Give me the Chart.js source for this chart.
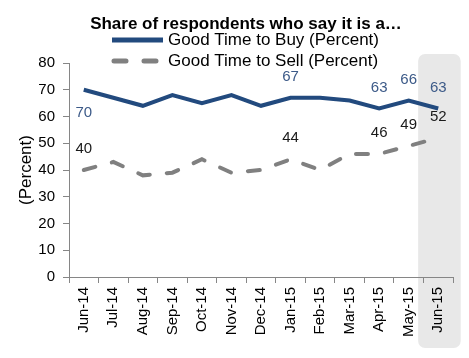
<!DOCTYPE html>
<html>
<head>
<meta charset="utf-8">
<script src="https://cdn.jsdelivr.net/npm/chart.js@4.4.0/dist/chart.umd.min.js"></script>
<style>
html,body{margin:0;padding:0;background:#fff;}
#wrap{width:469px;height:358px;}
</style>
</head>
<body>
<div id="wrap"><canvas id="c" width="469" height="358"></canvas></div>
<script>
const categories = ["Jun-14","Jul-14","Aug-14","Sep-14","Oct-14","Nov-14","Dec-14","Jan-15","Feb-15","Mar-15","Apr-15","May-15","Jun-15"];
const goodTimeToBuy = [70,67,64,68,65,68,64,67,67,66,63,66,63];
const goodTimeToSell = [40,43,38,39,44,39,40,44,40,46,46,49,52];
const yTicks = [0,10,20,30,40,50,60,70,80];
const buyLabelIdx = [0,7,10,11,12];
const buyLabelPos = ["below","above","above","above","above"];
const sellLabelIdx = [0,7,10,11,12];
const sellLabelPos = ["above","above","above","above","above"];
const shadedIdx = 12;
const titleText = "Share of respondents who say it is a…";
const seriesNames = ["Good Time to Buy (Percent)", "Good Time to Sell (Percent)"];

const FONT = "'Liberation Sans', Arial, sans-serif";
const BUY_COLOR = '#224a7e';
const SELL_COLOR = '#808080';
const SELL_DASH = [12, 17];

const shadePlugin = {
  id: 'shade',
  beforeDraw(chart) {
    const {ctx} = chart;
    const x = chart.scales.x;
    const c = x.getPixelForValue(shadedIdx);
    const w = x.getPixelForValue(1) - x.getPixelForValue(0);
    const left = c - 0.68 * w, right = c + 0.76 * w;
    const top = 54, bottom = 348, r = 7;
    ctx.save();
    ctx.fillStyle = '#e8e8e8';
    ctx.beginPath();
    ctx.roundRect(left, top, right - left, bottom - top, r);
    ctx.fill();
    ctx.restore();
  }
};

const headerPlugin = {
  id: 'header',
  afterDraw(chart) {
    const {ctx} = chart;
    ctx.save();
    ctx.textBaseline = 'middle';
    ctx.textAlign = 'center';
    ctx.fillStyle = '#000';
    ctx.font = "bold 17px " + FONT;
    ctx.fillText(titleText, 246, 24);
    ctx.textAlign = 'left';
    ctx.font = "17px " + FONT;
    const rows = [40, 61];
    const styles = [
      {color: BUY_COLOR, dash: [], cap: 'butt', x0: 112, x1: 163},
      {color: SELL_COLOR, dash: [12, 18], cap: 'round', x0: 114, x1: 162}
    ];
    rows.forEach((yy, i) => {
      const s = styles[i];
      ctx.save();
      ctx.strokeStyle = s.color;
      ctx.lineWidth = 5;
      ctx.lineCap = s.cap;
      ctx.setLineDash(s.dash);
      ctx.beginPath();
      ctx.moveTo(s.x0, yy);
      ctx.lineTo(s.x1, yy);
      ctx.stroke();
      ctx.restore();
      ctx.fillStyle = '#000';
      ctx.fillText(seriesNames[i], 168, yy);
    });
    ctx.restore();
  }
};

const labelPlugin = {
  id: 'vlabels',
  afterDatasetsDraw(chart) {
    const {ctx} = chart;
    const x = chart.scales.x, y = chart.scales.y;
    ctx.save();
    ctx.font = "15px " + FONT;
    ctx.textAlign = 'center';
    ctx.textBaseline = 'middle';
    const draw = (data, idx, pos, color) => {
      idx.forEach((i, k) => {
        const px = x.getPixelForValue(i);
        const py = y.getPixelForValue(data[i]);
        const dy = pos[k] === 'below' ? 23 : -21;
        ctx.fillStyle = color;
        ctx.fillText(String(data[i]), px, py + dy);
      });
    };
    draw(goodTimeToBuy, buyLabelIdx, buyLabelPos, '#3c5a88');
    draw(goodTimeToSell, sellLabelIdx, sellLabelPos, '#1a1a1a');
    ctx.restore();
  }
};

new Chart(document.getElementById('c'), {
  type: 'line',
  data: {
    labels: categories,
    datasets: [
      {
        label: seriesNames[0],
        data: goodTimeToBuy,
        borderColor: BUY_COLOR,
        backgroundColor: BUY_COLOR,
        borderWidth: 4,
        pointRadius: 0,
        tension: 0,
        borderCapStyle: 'butt'
      },
      {
        label: seriesNames[1],
        data: goodTimeToSell,
        borderColor: SELL_COLOR,
        backgroundColor: SELL_COLOR,
        borderWidth: 4,
        borderDash: SELL_DASH,
        pointRadius: 0,
        tension: 0,
        borderCapStyle: 'round'
      }
    ]
  },
  options: {
    responsive: false,
    animation: false,
    devicePixelRatio: 1,
    layout: { padding: { left: 0, right: 16, top: 63, bottom: 0 } },
    plugins: {
      title: { display: false },
      legend: { display: false },
      tooltip: { enabled: false }
    },
    scales: {
      x: {
        offset: true,
        afterFit(axis) { axis.height = 81; },
        grid: {
          display: true,
          drawOnChartArea: false,
          drawTicks: true,
          tickLength: 6,
          color: '#868686',
          offset: true
        },
        border: { color: '#868686', width: 1 },
        ticks: {
          maxRotation: 90,
          minRotation: 90,
          color: '#000',
          font: { family: FONT, size: 15 },
          padding: 4,
          autoSkip: false
        }
      },
      y: {
        min: 0,
        max: 80,
        afterFit(axis) { axis.width = 69; },
        afterBuildTicks(axis) { axis.ticks = yTicks.map(v => ({ value: v })); },
        grid: {
          display: true,
          drawOnChartArea: false,
          drawTicks: true,
          tickLength: 6,
          color: '#868686'
        },
        border: { color: '#868686', width: 1 },
        ticks: {
          color: '#000',
          font: { family: FONT, size: 15 },
          padding: 8
        },
        title: {
          display: true,
          text: '(Percent)',
          color: '#000',
          font: { family: FONT, size: 17 },
          padding: { top: 16, bottom: 4 }
        }
      }
    }
  },
  plugins: [shadePlugin, labelPlugin, headerPlugin]
});
</script>
</body>
</html>
